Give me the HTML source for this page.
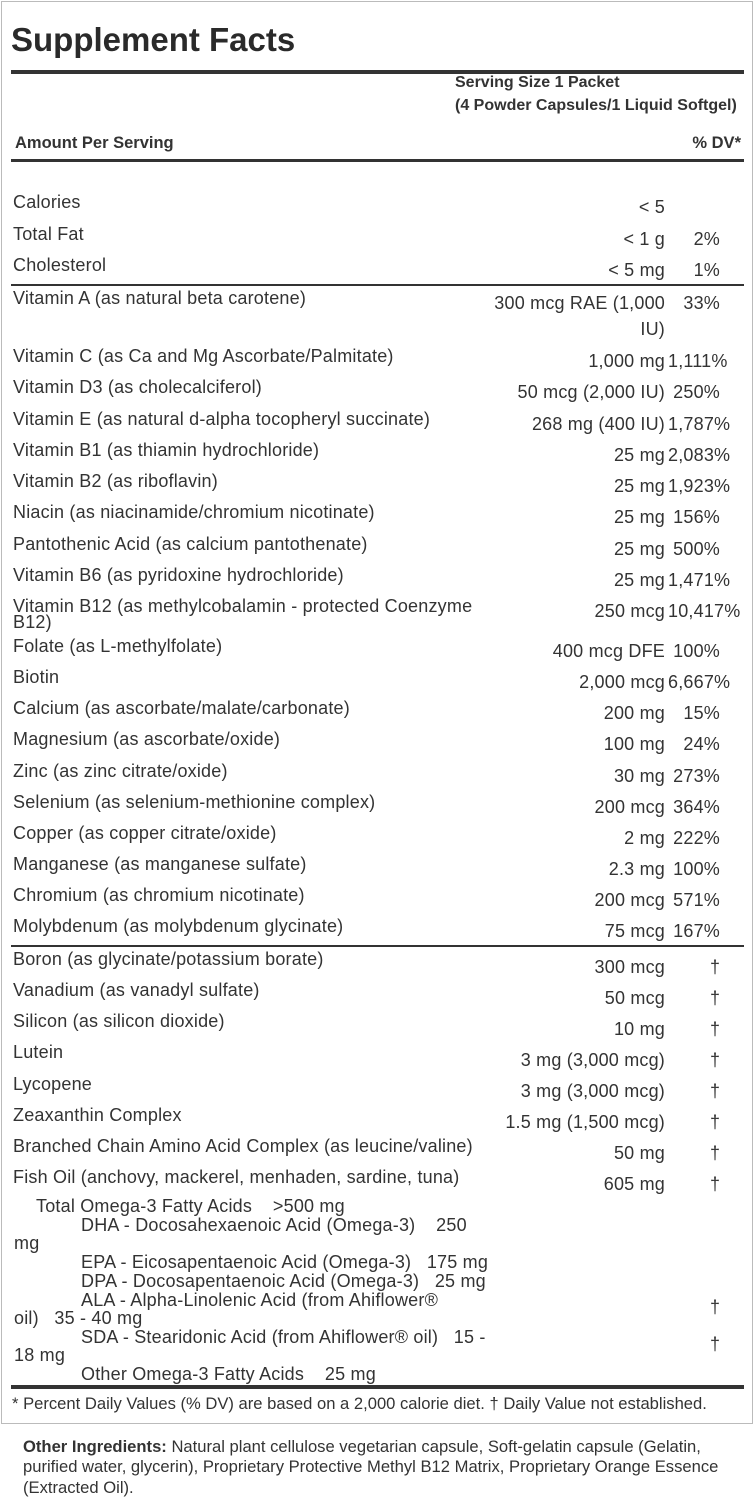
<!DOCTYPE html>
<html><head><meta charset="utf-8"><style>
body{margin:0;width:755px;height:1500px;background:#fff;position:relative;font-family:"Liberation Sans",Arial,sans-serif;color:#333;overflow:hidden}
.t{position:absolute;font-size:18px;line-height:20px;white-space:nowrap;letter-spacing:0.2px}
.r{position:absolute;font-size:18px;line-height:20px;white-space:nowrap;text-align:right;letter-spacing:0.2px}
.v{right:90px}
.d{left:668px;width:52px}
.hl{position:absolute;left:11px;width:733px;background:#333}
.s{font-size:16.6px;letter-spacing:0}
</style></head><body>
<div style="position:absolute;left:1px;top:1px;width:750px;height:1421px;border:1px solid #bbb"></div>
<div class="t" style="left:11px;top:21px;font-size:33px;line-height:38px;font-weight:bold;color:#2a2a2a;letter-spacing:0">Supplement Facts</div>
<div class="hl" style="top:70px;height:4px"></div>
<div class="t" style="left:455px;top:73px;font-size:16px;font-weight:bold;letter-spacing:0">Serving Size 1 Packet</div>
<div class="t" style="left:455px;top:96px;font-size:16px;font-weight:bold;letter-spacing:0">(4 Powder Capsules/1 Liquid Softgel)</div>
<div class="t" style="left:15px;top:133px;font-size:16.5px;font-weight:bold;letter-spacing:0">Amount Per Serving</div>
<div class="r" style="right:14px;top:133px;font-size:16.5px;font-weight:bold;letter-spacing:0">% DV*</div>
<div class="hl" style="top:159px;height:3px"></div>

<div class="t" style="left:13px;top:192px">Calories</div><div class="r v" style="top:197px">&lt; 5</div>
<div class="t" style="left:13px;top:224px">Total Fat</div><div class="r v" style="top:229px">&lt; 1 g</div><div class="r d" style="top:229px">2%</div>
<div class="t" style="left:13px;top:255px">Cholesterol</div><div class="r v" style="top:260px">&lt; 5 mg</div><div class="r d" style="top:260px">1%</div>
<div class="hl" style="top:284px;height:2px"></div>

<div class="t" style="left:13px;top:288px">Vitamin A (as natural beta carotene)</div><div class="r v" style="top:293px">300 mcg RAE (1,000</div><div class="r d" style="top:293px">33%</div><div class="r v" style="top:319px">IU)</div>
<div class="t" style="left:13px;top:346px">Vitamin C (as Ca and Mg Ascorbate/Palmitate)</div><div class="r v" style="top:351px">1,000 mg</div><div class="r d" style="top:351px">1,111%</div>
<div class="t" style="left:13px;top:377px">Vitamin D3 (as cholecalciferol)</div><div class="r v" style="top:382px">50 mcg (2,000 IU)</div><div class="r d" style="top:382px">250%</div>
<div class="t" style="left:13px;top:409px">Vitamin E (as natural d-alpha tocopheryl succinate)</div><div class="r v" style="top:414px">268 mg (400 IU)</div><div class="r d" style="top:414px">1,787%</div>
<div class="t" style="left:13px;top:440px">Vitamin B1 (as thiamin hydrochloride)</div><div class="r v" style="top:445px">25 mg</div><div class="r d" style="top:445px">2,083%</div>
<div class="t" style="left:13px;top:471px">Vitamin B2 (as riboflavin)</div><div class="r v" style="top:476px">25 mg</div><div class="r d" style="top:476px">1,923%</div>
<div class="t" style="left:13px;top:502px">Niacin (as niacinamide/chromium nicotinate)</div><div class="r v" style="top:507px">25 mg</div><div class="r d" style="top:507px">156%</div>
<div class="t" style="left:13px;top:534px">Pantothenic Acid (as calcium pantothenate)</div><div class="r v" style="top:539px">25 mg</div><div class="r d" style="top:539px">500%</div>
<div class="t" style="left:13px;top:565px">Vitamin B6 (as pyridoxine hydrochloride)</div><div class="r v" style="top:570px">25 mg</div><div class="r d" style="top:570px">1,471%</div>
<div class="t" style="left:13px;top:596px">Vitamin B12 (as methylcobalamin - protected Coenzyme</div><div class="t" style="left:13px;top:612px">B12)</div><div class="r v" style="top:601px">250 mcg</div><div class="r d" style="top:601px">10,417%</div>
<div class="t" style="left:13px;top:636px">Folate (as L-methylfolate)</div><div class="r v" style="top:641px">400 mcg DFE</div><div class="r d" style="top:641px">100%</div>
<div class="t" style="left:13px;top:667px">Biotin</div><div class="r v" style="top:672px">2,000 mcg</div><div class="r d" style="top:672px">6,667%</div>
<div class="t" style="left:13px;top:698px">Calcium (as ascorbate/malate/carbonate)</div><div class="r v" style="top:703px">200 mg</div><div class="r d" style="top:703px">15%</div>
<div class="t" style="left:13px;top:729px">Magnesium (as ascorbate/oxide)</div><div class="r v" style="top:734px">100 mg</div><div class="r d" style="top:734px">24%</div>
<div class="t" style="left:13px;top:761px">Zinc (as zinc citrate/oxide)</div><div class="r v" style="top:766px">30 mg</div><div class="r d" style="top:766px">273%</div>
<div class="t" style="left:13px;top:792px">Selenium (as selenium-methionine complex)</div><div class="r v" style="top:797px">200 mcg</div><div class="r d" style="top:797px">364%</div>
<div class="t" style="left:13px;top:823px">Copper (as copper citrate/oxide)</div><div class="r v" style="top:828px">2 mg</div><div class="r d" style="top:828px">222%</div>
<div class="t" style="left:13px;top:854px">Manganese (as manganese sulfate)</div><div class="r v" style="top:859px">2.3 mg</div><div class="r d" style="top:859px">100%</div>
<div class="t" style="left:13px;top:885px">Chromium (as chromium nicotinate)</div><div class="r v" style="top:890px">200 mcg</div><div class="r d" style="top:890px">571%</div>
<div class="t" style="left:13px;top:916px">Molybdenum (as molybdenum glycinate)</div><div class="r v" style="top:921px">75 mcg</div><div class="r d" style="top:921px">167%</div>
<div class="hl" style="top:945px;height:2px"></div>

<div class="t" style="left:13px;top:949px">Boron (as glycinate/potassium borate)</div><div class="r v" style="top:957px">300 mcg</div><div class="t" style="left:710px;top:957px">†</div>
<div class="t" style="left:13px;top:980px">Vanadium (as vanadyl sulfate)</div><div class="r v" style="top:988px">50 mcg</div><div class="t" style="left:710px;top:988px">†</div>
<div class="t" style="left:13px;top:1011px">Silicon (as silicon dioxide)</div><div class="r v" style="top:1019px">10 mg</div><div class="t" style="left:710px;top:1019px">†</div>
<div class="t" style="left:13px;top:1042px">Lutein</div><div class="r v" style="top:1050px">3 mg (3,000 mcg)</div><div class="t" style="left:710px;top:1050px">†</div>
<div class="t" style="left:13px;top:1074px">Lycopene</div><div class="r v" style="top:1081px">3 mg (3,000 mcg)</div><div class="t" style="left:710px;top:1081px">†</div>
<div class="t" style="left:13px;top:1105px">Zeaxanthin Complex</div><div class="r v" style="top:1112px">1.5 mg (1,500 mcg)</div><div class="t" style="left:710px;top:1112px">†</div>
<div class="t" style="left:13px;top:1136px">Branched Chain Amino Acid Complex (as leucine/valine)</div><div class="r v" style="top:1143px">50 mg</div><div class="t" style="left:710px;top:1143px">†</div>
<div class="t" style="left:13px;top:1167px">Fish Oil (anchovy, mackerel, menhaden, sardine, tuna)</div><div class="r v" style="top:1174px">605 mg</div><div class="t" style="left:710px;top:1174px">†</div>

<div class="t" style="left:36px;top:1196px">Total Omega-3 Fatty Acids &nbsp;&nbsp; &gt;500 mg</div>
<div class="t" style="left:81px;top:1215px">DHA - Docosahexaenoic Acid (Omega-3) &nbsp;&nbsp; 250</div>
<div class="t" style="left:14px;top:1233px">mg</div>
<div class="t" style="left:81px;top:1252px">EPA - Eicosapentaenoic Acid (Omega-3) &nbsp; 175 mg</div>
<div class="t" style="left:81px;top:1271px">DPA - Docosapentaenoic Acid (Omega-3) &nbsp; 25 mg</div>
<div class="t" style="left:81px;top:1290px">ALA - Alpha-Linolenic Acid (from Ahiflower®</div><div class="t" style="left:710px;top:1297px">†</div>
<div class="t" style="left:14px;top:1308px">oil) &nbsp; 35 - 40 mg</div>
<div class="t" style="left:81px;top:1327px">SDA - Stearidonic Acid (from Ahiflower® oil) &nbsp; 15 -</div><div class="t" style="left:710px;top:1334px">†</div>
<div class="t" style="left:14px;top:1345px">18 mg</div>
<div class="t" style="left:81px;top:1364px">Other Omega-3 Fatty Acids &nbsp;&nbsp; 25 mg</div>
<div class="hl" style="top:1385px;height:4px"></div>
<div class="t s" style="left:12px;top:1394px">* Percent Daily Values (% DV) are based on a 2,000 calorie diet. † Daily Value not established.</div>

<div class="t s" style="left:23px;top:1437px"><b>Other Ingredients:</b> Natural plant cellulose vegetarian capsule, Soft-gelatin capsule (Gelatin,</div>
<div class="t s" style="left:23px;top:1457px">purified water, glycerin), Proprietary Protective Methyl B12 Matrix, Proprietary Orange Essence</div>
<div class="t s" style="left:23px;top:1478px">(Extracted Oil).</div>
</body></html>
